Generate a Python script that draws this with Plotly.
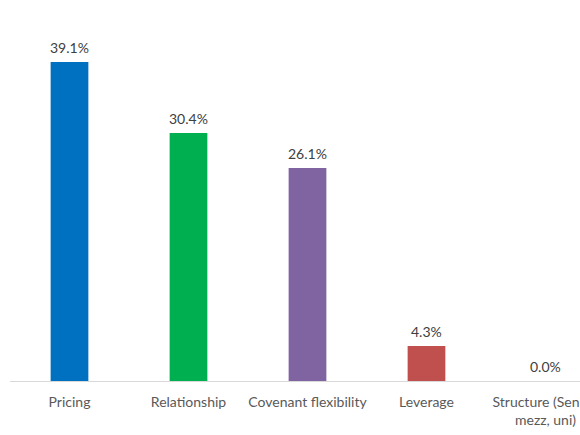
import plotly.graph_objects as go

categories = ["Pricing", "Relationship", "Covenant flexibility", "Leverage",
              "Structure (Senior,<br>mezz, uni)"]
values = [39.1, 30.4, 26.1, 4.3, 0.0]
colors = ["#0070C0", "#00B050", "#8064A2", "#C0504D", "#A5A5A5"]

x_idx = list(range(len(categories)))

fig = go.Figure(
    data=[go.Bar(
        x=x_idx,
        y=values,
        width=0.317,
        marker=dict(color=colors, line=dict(width=0)),
        hoverinfo="skip",
    )]
)

# value labels above bars
for i, v in zip(x_idx, values):
    fig.add_annotation(
        x=i, y=v, xref="x", yref="y",
        text=f"{v:.1f}%",
        showarrow=False,
        yanchor="bottom",
        yshift=4,
        font=dict(family="Lato", size=14, color="#404040"),
    )

fig.update_layout(
    width=580,
    height=435,
    margin=dict(l=10, r=0, t=0, b=54),
    plot_bgcolor="white",
    paper_bgcolor="white",
    showlegend=False,
    xaxis=dict(
        tickmode="array",
        tickvals=x_idx,
        ticktext=categories,
        range=[-0.5, 4.29],
        showline=True,
        linecolor="#D9D9D9",
        linewidth=1,
        showgrid=False,
        zeroline=False,
        ticks="",
        tickfont=dict(family="Lato", size=14, color="#595959"),
        ticklabelstandoff=8,
        ticklabeloverflow="allow",
        automargin=False,
    ),
    yaxis=dict(
        range=[0, 46.69],
        visible=False,
        showgrid=False,
        zeroline=False,
    ),
)

# drop the default body margin so the 580x435 figure fills the window exactly
fig.write_html("out.html", config={"displayModeBar": False},
               post_script="document.body.style.margin='0';")
